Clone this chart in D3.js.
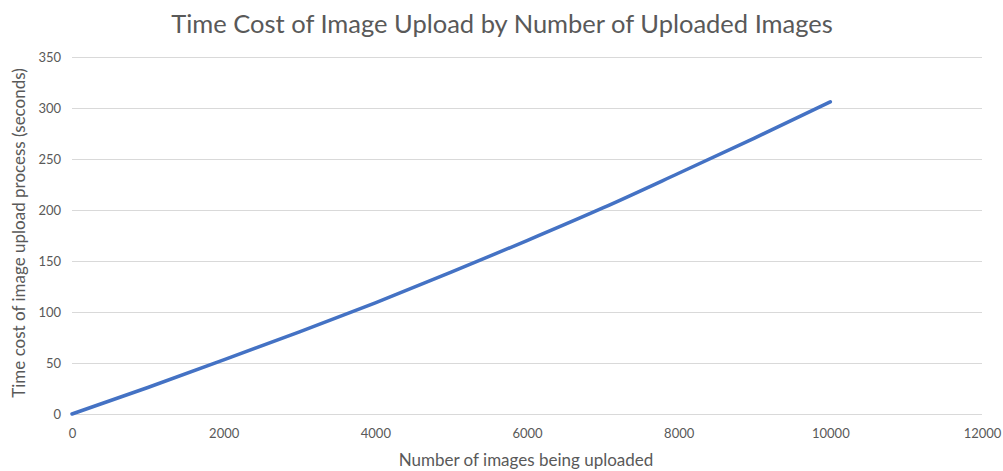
<!DOCTYPE html>
<html>
<head>
<meta charset="utf-8">
<script src="https://cdn.jsdelivr.net/npm/d3@7"></script>
<style>
  html, body { margin: 0; padding: 0; background: #fff; }
  svg { display: block; }
  .tick text { font-family: Lato, "Open Sans", sans-serif; font-size: 13px; fill: #595959; }
</style>
</head>
<body>
<svg id="chart" width="1003" height="471"></svg>
<script>
// Number of images uploaded and the measured upload time (seconds)
const imageCounts = [0, 1000, 2000, 3000, 4000, 5000, 6000, 7000, 8000, 9000, 10000];
const uploadSeconds = [0, 26, 53, 80.5, 109, 139, 170, 202, 236, 270.5, 306];

const xTicks = [0, 2000, 4000, 6000, 8000, 10000, 12000];
const yTicks = [0, 50, 100, 150, 200, 250, 300, 350];

const chartTitle = "Time Cost of Image Upload by Number of Uploaded Images";
const xTitle = "Number of images being uploaded";
const yTitle = "Time cost of image upload process (seconds)";

const svg = d3.select("#chart");
const W = 1003, H = 471;
const margin = { left: 72, right: 21, top: 57, bottom: 57 };

const x = d3.scaleLinear().domain([0, 12000]).range([margin.left, W - margin.right]);
const y = d3.scaleLinear().domain([0, 350]).range([H - margin.bottom, margin.top]);

// horizontal gridlines
svg.append("g")
  .selectAll("line")
  .data(yTicks)
  .join("line")
  .attr("x1", x(0)).attr("x2", x(12000))
  .attr("y1", d => Math.round(y(d)) + 0.5).attr("y2", d => Math.round(y(d)) + 0.5)
  .attr("stroke", "#d9d9d9").attr("stroke-width", 1);

// x axis labels
const xAxis = svg.append("g")
  .attr("transform", `translate(0,${y(0) + 12})`)
  .call(d3.axisBottom(x).tickValues(xTicks).tickSize(0).tickFormat(d3.format("d")));
xAxis.select(".domain").remove();

// y axis labels
const yAxis = svg.append("g")
  .attr("transform", `translate(${x(0) - 8},0)`)
  .call(d3.axisLeft(y).tickValues(yTicks).tickSize(0).tickFormat(d3.format("d")));
yAxis.select(".domain").remove();

// data line
const line = d3.line()
  .x((d, i) => x(imageCounts[i]))
  .y(d => y(d))
  .curve(d3.curveMonotoneX);

svg.append("path")
  .datum(uploadSeconds)
  .attr("d", line)
  .attr("fill", "none")
  .attr("stroke", "#4472c4")
  .attr("stroke-width", 3.5)
  .attr("stroke-linecap", "round");

// titles
svg.append("text")
  .attr("x", 502).attr("y", 33)
  .attr("text-anchor", "middle")
  .style("font-family", "Lato, 'Open Sans', sans-serif")
  .style("font-size", "25.5px")
  .style("fill", "#595959")
  .text(chartTitle);

svg.append("text")
  .attr("x", 526).attr("y", 466)
  .attr("text-anchor", "middle")
  .style("font-family", "Lato, 'Open Sans', sans-serif")
  .style("font-size", "17px")
  .style("fill", "#595959")
  .text(xTitle);

svg.append("text")
  .attr("transform", "translate(25,233) rotate(-90)")
  .attr("text-anchor", "middle")
  .style("font-family", "Lato, 'Open Sans', sans-serif")
  .style("font-size", "17px")
  .style("fill", "#595959")
  .text(yTitle);
</script>
</body>
</html>
